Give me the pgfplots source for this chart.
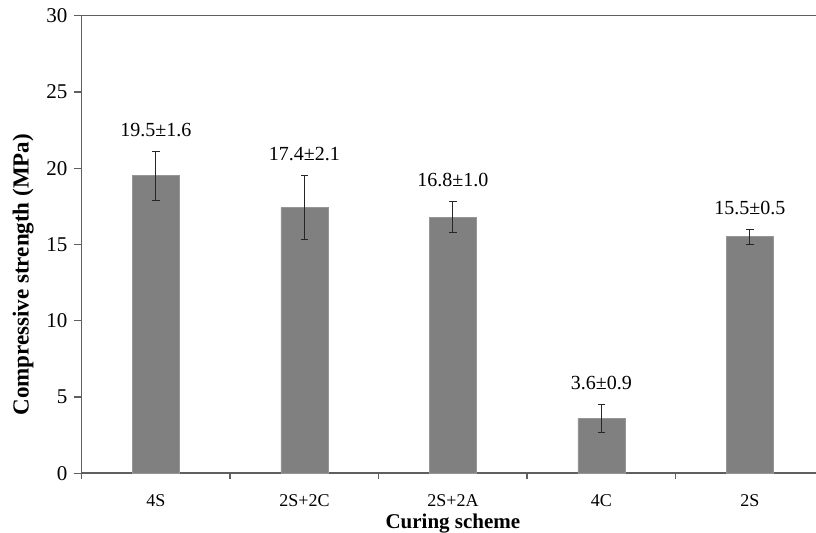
\documentclass[border=0pt]{standalone}
\usepackage{fontspec}
\setmainfont{Liberation Serif}
\usepackage{pgfplots}
\pgfplotsset{compat=1.18}
\definecolor{barfill}{RGB}{128,128,128}
\definecolor{baredge}{RGB}{150,150,150}
\definecolor{axisgray}{RGB}{95,95,95}
\begin{document}
\begin{tikzpicture}
\begin{axis}[
  scale only axis,
  width=367.2pt, height=228.8pt,
  xmin=-0.5, xmax=4.445,
  ymin=0, ymax=30,
  axis x line*=box,
  axis y line*=left,
  axis line style={axisgray, line width=0.8pt},
  xtick={0,1,2,3,4},
  xticklabels={4S,2S+2C,2S+2A,4C,2S},
  minor xtick={-0.5,0.5,1.5,2.5,3.5},
  xtick pos=bottom,
  ytick pos=left,
  ytick={0,5,...,30},
  tick align=outside,
  major tick length=4pt,
  minor tick length=3pt,
  major x tick style={draw=none},
  minor x tick style={axisgray, line width=0.7pt},
  major y tick style={axisgray, line width=0.7pt},
  /pgf/number format/assume math mode=true,
  xticklabel style={font=\fontsize{9}{11}\selectfont, anchor=north, inner sep=0pt, yshift=-6.5pt},
  yticklabel style={font=\fontsize{10.5}{12}\selectfont, anchor=east, inner sep=0pt, xshift=-3pt},
  clip=false,
]
\addplot[ybar, bar width=23.5pt, fill=barfill, draw=baredge,
  error bars/.cd, y dir=both, y explicit,
  error bar style={color=black!85, line width=0.55pt},
  error mark options={rotate=90, mark size=1.8pt, line width=0.55pt, black!85}]
  coordinates {
    (0,19.5) +- (0,1.6)
    (1,17.4) +- (0,2.1)
    (2,16.8) +- (0,1.0)
    (3,3.6)  +- (0,0.9)
    (4,15.5) +- (0,0.5)
  };
\addplot[draw=none, mark=none, nodes near coords, point meta=explicit symbolic,
  every node near coord/.append style={font=\fontsize{10}{12}\selectfont, anchor=base, inner sep=0pt, yshift=7.5pt, black}]
  coordinates {
    (0,21.1)[19.5±1.6]
    (1,19.5)[17.4±2.1]
    (2,17.8)[16.8±1.0]
    (3,4.5)[3.6±0.9]
    (4,16.0)[15.5±0.5]
  };
\coordinate (sw) at (rel axis cs:0,0);
\coordinate (ne) at (rel axis cs:1,1);
\node[font=\bfseries\fontsize{10.5}{12}\selectfont, anchor=north, inner sep=0pt, yshift=-20pt] at (axis cs:2,0) {Curing scheme};
\node[font=\bfseries\fontsize{11.5}{13}\selectfont, rotate=90, anchor=center, inner sep=0pt] at ([xshift=-29.3pt]rel axis cs:0,0.434) {Compressive strength (MPa)};
\end{axis}
\pgfresetboundingbox
\path ([xshift=-40.85pt,yshift=-29.85pt]sw) rectangle ([yshift=7.85pt]ne);
\end{tikzpicture}
\end{document}
